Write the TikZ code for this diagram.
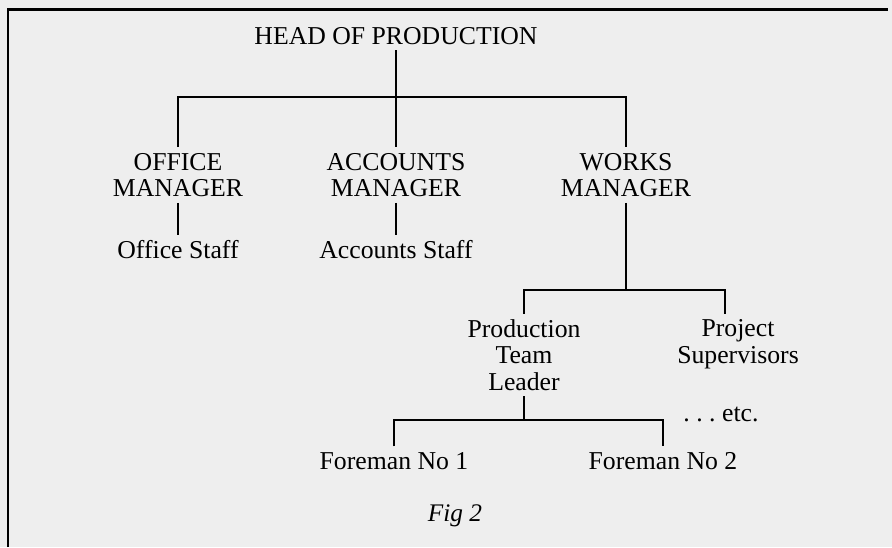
\documentclass[tikz,border=0pt]{standalone}
\usepackage{fontspec}
\setmainfont{Liberation Serif}
\definecolor{paper}{RGB}{238,238,238}

\begin{document}
\begin{tikzpicture}[x=0.025cm,y=-0.025cm,
	post/.style={align=center,inner xsep=2pt,inner ysep=4pt,font=\fontsize{18.3}{18.85}\selectfont},
	link/.style={line width=1.3pt}]
\fill[paper] (0,0) rectangle (892,547);
\useasboundingbox (0,0) rectangle (892,547);
\draw[line width=1.7pt] (8,547) -- (8,9.5) -- (888,9.5);

\node[post] (head) at (396,35.7) {HEAD OF PRODUCTION};

\node[post] (office) at (178,175) {OFFICE\\MANAGER};
\node[post] (accounts) at (396,175) {ACCOUNTS\\MANAGER};
\node[post] (works) at (626,175) {WORKS\\MANAGER};

\node[post] (ostaff) at (178,250) {Office Staff};
\node[post] (astaff) at (396,250) {Accounts Staff};

\node[post] (ptl) at (524,355) {Production\\Team\\Leader};
\node[post] (proj) at (738,344) {Project\\Supervisors};
\node[post] (etc) at (721,414.5) {.\ .\ .\ etc.};

\node[post] (fone) at (394,461) {Foreman No 1};
\node[post] (ftwo) at (663,461) {Foreman No 2};

\node[post,font=\fontsize{18}{18}\selectfont\itshape] (fig) at (455,516) {Fig 2};

% bars
\coordinate (b1) at (396,97);
\coordinate (b2) at (626,290);
\coordinate (pj) at (725,290);
\coordinate (b3) at (524,420);

\draw[link] (office.north) |- (b1) -| (works.north);
\draw[link] (head) -- (accounts);
\foreach \a/\b in {office/ostaff,accounts/astaff,works/b2,ptl/b3}
	\draw[link] (\a) -- (\b);
\draw[link] (ptl.north) |- (pj) -- (pj |- proj.north);
\draw[link] (fone.north) |- (b3) -| (ftwo.north);
\end{tikzpicture}
\end{document}
